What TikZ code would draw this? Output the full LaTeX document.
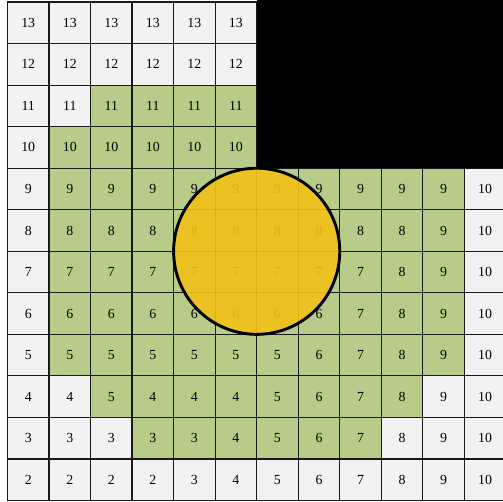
\documentclass[tikz,border=0pt]{standalone}
\usepackage{fontspec}
\setmainfont{Liberation Serif}
\usepackage{xcolor}
\usetikzlibrary{calc}
\definecolor{cw}{HTML}{F2F2F2}
\definecolor{cg}{HTML}{B7CC88}
\definecolor{gold}{HTML}{F2C218}
\begin{document}
\begin{tikzpicture}[x=1cm, y=1cm,
    cellstyle/.style={draw=black!90, line width=0.8pt, minimum size=1cm, inner sep=0pt,
      font=\fontsize{9.5}{11}\selectfont},
    wallstyle/.style={fill=black},
    ballstyle/.style={draw=black, line width=2pt, fill=gold, fill opacity=0.9}]
  \useasboundingbox (-0.18,-0.02) rectangle (11.93,12.05);
  % cost per cell, row by row from the top (w = free, g = visited)
  \foreach \row [count=\j] in {
      {13/w,13/w,13/w,13/w,13/w,13/w},
      {12/w,12/w,12/w,12/w,12/w,12/w},
      {11/w,11/w,11/g,11/g,11/g,11/g},
      {10/w,10/g,10/g,10/g,10/g,10/g},
      {9/w,9/g,9/g,9/g,9/g,9/g,9/g,9/g,9/g,9/g,9/g,10/w},
      {8/w,8/g,8/g,8/g,8/g,8/g,8/g,8/g,8/g,8/g,9/g,10/w},
      {7/w,7/g,7/g,7/g,7/g,7/g,7/g,7/g,7/g,8/g,9/g,10/w},
      {6/w,6/g,6/g,6/g,6/g,6/g,6/g,6/g,7/g,8/g,9/g,10/w},
      {5/w,5/g,5/g,5/g,5/g,5/g,5/g,6/g,7/g,8/g,9/g,10/w},
      {4/w,4/w,5/g,4/g,4/g,4/g,5/g,6/g,7/g,8/g,9/w,10/w},
      {3/w,3/w,3/w,3/g,3/g,4/g,5/g,6/g,7/g,8/w,9/w,10/w},
      {2/w,2/w,2/w,2/w,3/w,4/w,5/w,6/w,7/w,8/w,9/w,10/w}}
    \foreach \v/\s [count=\i] in \row
      \node[cellstyle, fill=c\s] (c\j-\i) at (\i-0.5, 12.5-\j) {\v};
  % obstacle in the corner
  \fill[wallstyle] (6,8) rectangle (12.2,12.2);
  % the ball
  \coordinate (ctr) at (6,6);
  \draw[ballstyle] (ctr) circle (2);
\end{tikzpicture}
\end{document}
